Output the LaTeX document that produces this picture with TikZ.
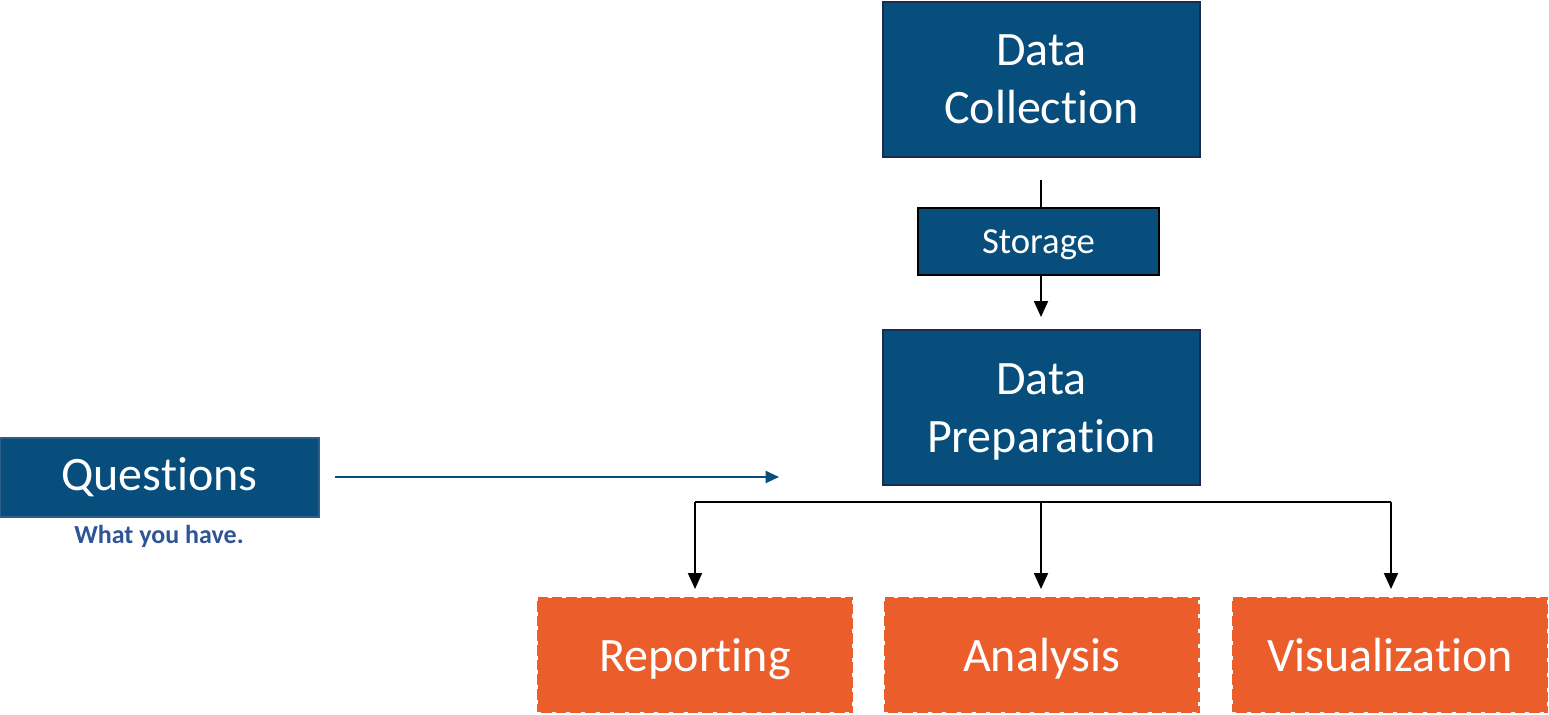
\documentclass[tikz,border=0pt]{standalone}
\usepackage{fontspec}
\setmainfont{Carlito}[Ligatures=NoCommon]
\usetikzlibrary{arrows.meta}
\definecolor{boxblue}{RGB}{7,78,125}
\definecolor{boxedge}{RGB}{27,45,79}
\definecolor{qedge}{RGB}{46,95,138}
\definecolor{orangefill}{RGB}{235,94,44}
\definecolor{subblue}{RGB}{47,85,151}
\tikzset{
  bigbox/.style={rectangle, fill=boxblue, draw=boxedge, line width=2.2pt, inner sep=0pt,
    minimum width=237.75pt, minimum height=116.25pt, text=white, align=center,
    font=\fontsize{36}{43.5}\selectfont},
  boxlabel/.style={text=white, align=center, inner sep=0pt,
    font=\fontsize{36}{43.5}\selectfont},
  storebox/.style={rectangle, fill=boxblue, draw=black, line width=1.5pt, inner sep=0pt,
    minimum width=180.75pt, minimum height=50.25pt, text=white, text depth=0pt,
    font=\fontsize{27.5}{33}\selectfont},
  qbox/.style={rectangle, fill=boxblue, draw=qedge, line width=1pt, inner sep=0pt,
    minimum width=239.25pt, minimum height=59.25pt, text=white,
    font=\fontsize{36}{43.5}\selectfont},
  outbox/.style={rectangle, fill=orangefill, draw=white, line width=2pt,
    dash pattern=on 3pt off 8pt, inner sep=0pt,
    minimum width=237pt, minimum height=87pt, text=white, text depth=0pt,
    font=\fontsize{36}{43.5}\selectfont},
  blackarrow/.style={draw=black, line width=1.5pt, -{Triangle[width=10.5pt,length=12pt]}},
  blackline/.style={draw=black, line width=1.5pt},
  bluearrow/.style={draw=boxblue, line width=1.5pt, -{Triangle[width=9pt,length=10pt]}},
}
\begin{document}
\begin{tikzpicture}[x=0.75pt,y=-0.75pt]
\useasboundingbox (0,0) rectangle (1549,714);
\node[bigbox] (dc) at (1041.5,79.5) {Data\\Collection};
\node[storebox] (st) at (1038.5,241.5) {Storage};
\node[bigbox] (dp) at (1041.5,407.5) {};
\node[boxlabel] (dplabel) at (1041.5,411.5) {Data\\Preparation};
\node[qbox] (q) at (159.5,477.5) {Questions};
\node[text=subblue, font=\bfseries\fontsize{19.5}{23}\selectfont] (wyh) at (159,536) {What you have.};
\node[outbox] (rep) at (695,655) {Reporting};
\node[outbox] (ana) at (1041.5,655) {Analysis};
\node[outbox] (vis) at (1390,655) {Visualization};

\coordinate (dcout) at (1041,180);
\coordinate (dpin) at (1041,317);
\coordinate (qend) at (779,477);
\coordinate (qstart) at (335,477);
\coordinate (bl) at (695,502);
\coordinate (bm) at (1041,502);
\coordinate (br) at (1391,502);
\coordinate (repin) at (695,589);
\coordinate (anain) at (1041,589);
\coordinate (visin) at (1391,589);

\draw[blackline] (dcout) -- (st.north -| dcout);
\draw[blackarrow] (st.south -| dpin) -- (dpin);
\draw[bluearrow] (qstart) -- (qend);
\draw[blackline] (bl) -- (br);
\draw[blackarrow] (bl) -- (repin);
\draw[blackarrow] (bm) -- (anain);
\draw[blackarrow] (br) -- (visin);
\end{tikzpicture}
\end{document}
